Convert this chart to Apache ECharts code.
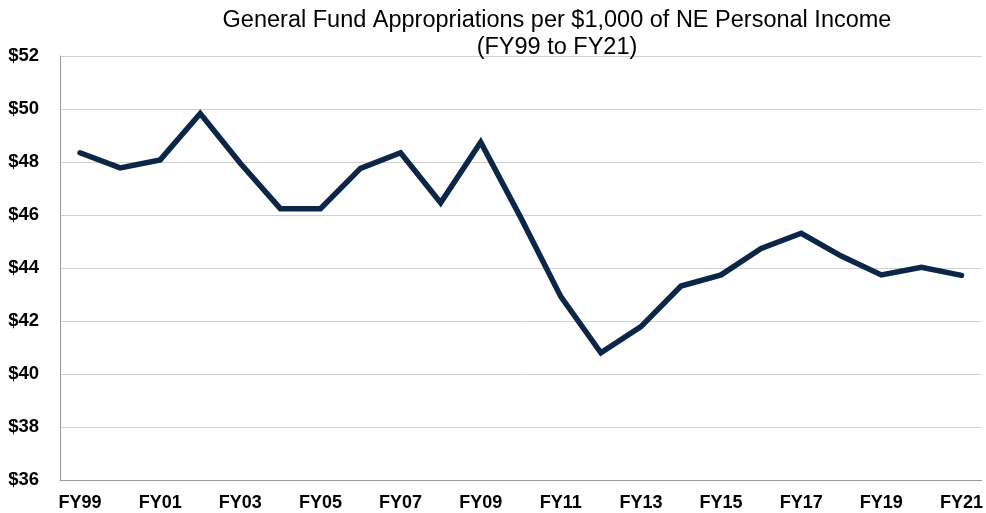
<!DOCTYPE html>
<html>
<head>
<meta charset="utf-8">
<script src="https://cdn.jsdelivr.net/npm/echarts@6/dist/echarts.min.js"></script>
<style>
  html, body { margin: 0; padding: 0; background: #fff; }
  #chart { width: 986px; height: 513px; }
</style>
</head>
<body>
<div id="chart"></div>
<script>
// 类别（财年）
const years = ['FY99', 'FY00', 'FY01', 'FY02', 'FY03', 'FY04', 'FY05', 'FY06', 'FY07', 'FY08',
  'FY09', 'FY10', 'FY11', 'FY12', 'FY13', 'FY14', 'FY15', 'FY16', 'FY17', 'FY18',
  'FY19', 'FY20', 'FY21'];

// 每千美元个人收入的普通基金拨款
const perThousand = [48.35, 47.78, 48.08, 49.83, 47.95, 46.24, 46.24, 47.76, 48.35, 46.46,
  48.75, 45.9, 42.92, 40.8, 41.79, 43.32, 43.74, 44.74, 45.31, 44.45,
  43.74, 44.03, 43.72];

const titleLines = ['General Fund Appropriations per $1,000 of NE Personal Income', '(FY99 to FY21)'];

const chart = echarts.init(document.getElementById('chart'));

const option = {
  animation: false,
  title: {
    text: titleLines.join('\n'),
    left: 552,
    top: 2,
    textAlign: 'center',
    textStyle: {
      fontFamily: 'Liberation Sans, Arial, sans-serif',
      fontSize: 23.5,
      fontWeight: 'normal',
      color: '#000',
      lineHeight: 27
    }
  },
  grid: { left: 60, right: 4, top: 56, bottom: 33, containLabel: false },
  xAxis: {
    type: 'category',
    data: years,
    boundaryGap: true,
    axisLine: { lineStyle: { color: '#999', width: 1 } },
    axisTick: { alignWithLabel: true, inside: true, length: 3, lineStyle: { color: '#999' } },
    axisLabel: {
      interval: 1,
      margin: 14,
      color: '#000',
      fontFamily: 'Liberation Sans, Arial, sans-serif',
      fontWeight: 'bold',
      fontSize: 18
    },
    splitLine: { show: false }
  },
  yAxis: {
    type: 'value',
    min: 36,
    max: 52,
    interval: 2,
    axisLine: { show: true, lineStyle: { color: '#999', width: 1 } },
    axisTick: { show: false },
    axisLabel: {
      margin: 21,
      color: '#000',
      fontFamily: 'Liberation Sans, Arial, sans-serif',
      fontWeight: 'bold',
      fontSize: 18.5,
      formatter: v => '$' + v
    },
    splitLine: { lineStyle: { color: '#d0d0d0', width: 1 } }
  },
  series: [{
    type: 'line',
    data: perThousand,
    showSymbol: false,
    lineStyle: { color: '#0b2646', width: 5.5, cap: 'round', join: 'miter' }
  }]
};

chart.setOption(option);
</script>
</body>
</html>
